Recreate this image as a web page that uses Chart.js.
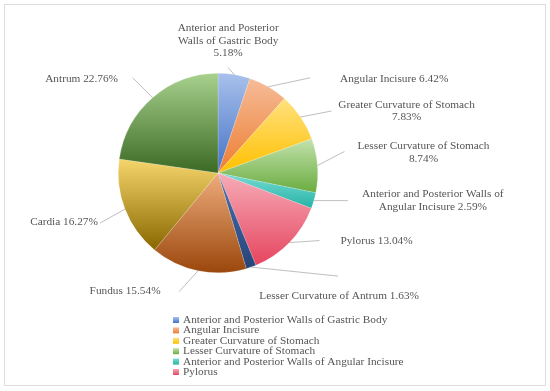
<!DOCTYPE html>
<html>
<head>
<meta charset="utf-8">
<script src="https://cdn.jsdelivr.net/npm/chart.js@4"></script>
<style>
  html, body { margin: 0; padding: 0; background: #fff; }
  canvas { display: block; }
</style>
</head>
<body>
<canvas id="chart" width="550" height="391"></canvas>
<script>
const categories = [
  "Anterior and Posterior Walls of Gastric Body",
  "Angular Incisure",
  "Greater Curvature of Stomach",
  "Lesser Curvature of Stomach",
  "Anterior and Posterior Walls of Angular Incisure",
  "Pylorus",
  "Lesser Curvature of Antrum",
  "Fundus",
  "Cardia",
  "Antrum"
];
const shares = [5.18, 6.42, 7.83, 8.74, 2.59, 13.04, 1.63, 15.54, 16.27, 22.76];
const legendCount = 6; // the legend box in the original only shows the first six

// gradient per slice: light at the top of the slice, base colour at the bottom
const topColors = ["#a9c1ec", "#f6bc98", "#ffe17e", "#c3e2ad", "#78dcd4", "#f6acb8", "#4b6fb0", "#efac7c", "#f6d66c", "#a8d18e"];
const bottomColors = ["#4472c4", "#ed7d31", "#ffc000", "#6aac3f", "#27b3a7", "#e6455e", "#264478", "#9a470c", "#886700", "#3b6a24"];

// where each data label sits, relative to the outer edge of its slice
const labelSpots = [
  { dx: -6, dy: -34, ex: -6, ey: -7, wrap: 110 },
  { dx: 126, dy: -8, ex: 42, ey: -9, wrap: 200 },
  { dx: 106, dy: -6, ex: 31, ey: -6, wrap: 148 },
  { dx: 106, dy: -13, ex: 27, ey: -14, wrap: 148 },
  { dx: 119, dy: 0, ex: 34, ey: 0, wrap: 152 },
  { dx: 87, dy: -2, ex: 30, ey: -2, wrap: 200 },
  { dx: 88, dy: 29, ex: 87, ey: 9, wrap: 200 },
  { dx: -73, dy: 20, ex: -19, ey: 21, wrap: 200 },
  { dx: -61, dy: 13, ex: -25, ey: 14, wrap: 200 },
  { dx: -71, dy: -19, ex: -20, ey: -20, wrap: 200 }
];

const textColor = "#555555";
const textFont = "11.3px 'Liberation Serif'";

function sliceFill(ctx) {
  const chart = ctx.chart;
  const area = chart.chartArea;
  const i = ctx.dataIndex;
  if (!area) return bottomColors[i];
  const cx = (area.left + area.right) / 2;
  const cy = (area.top + area.bottom) / 2;
  const r = Math.min(area.right - area.left, area.bottom - area.top) / 2;
  const total = shares.reduce((a, b) => a + b, 0);
  let before = 0;
  for (let k = 0; k < i; k++) before += shares[k];
  const a0 = -Math.PI / 2 + before / total * 2 * Math.PI;
  const a1 = a0 + shares[i] / total * 2 * Math.PI;
  let yMin = cy, yMax = cy;
  for (let s = 0; s <= 30; s++) {
    const y = cy + r * Math.sin(a0 + (a1 - a0) * s / 30);
    yMin = Math.min(yMin, y);
    yMax = Math.max(yMax, y);
  }
  const g = chart.ctx.createLinearGradient(0, yMin, 0, yMax);
  g.addColorStop(0, topColors[i]);
  g.addColorStop(1, bottomColors[i]);
  return g;
}

function wrapText(ctx, text, maxW) {
  const words = text.split(" ");
  const lines = [];
  let line = "";
  words.forEach(w => {
    const test = line ? line + " " + w : w;
    if (line && ctx.measureText(test).width > maxW) {
      lines.push(line);
      line = w;
    } else {
      line = test;
    }
  });
  if (line) lines.push(line);
  return lines;
}

const framePlugin = {
  id: "frame",
  beforeDraw(chart) {
    const ctx = chart.ctx;
    ctx.save();
    ctx.fillStyle = "#fff";
    ctx.fillRect(0, 0, chart.width, chart.height);
    ctx.strokeStyle = "#dedede";
    ctx.lineWidth = 1;
    ctx.strokeRect(4.5, 4.5, 541, 381);
    ctx.restore();
  }
};

const labelPlugin = {
  id: "sliceLabels",
  afterDatasetsDraw(chart) {
    const ctx = chart.ctx;
    const meta = chart.getDatasetMeta(0);
    ctx.save();
    ctx.font = textFont;
    ctx.fillStyle = textColor;
    ctx.textAlign = "center";
    ctx.textBaseline = "middle";
    meta.data.forEach((arc, i) => {
      const spot = labelSpots[i];
      const mid = (arc.startAngle + arc.endAngle) / 2;
      const ax = arc.x + Math.cos(mid) * arc.outerRadius;
      const ay = arc.y + Math.sin(mid) * arc.outerRadius;

      ctx.strokeStyle = "#bfbfbf";
      ctx.lineWidth = 1;
      ctx.beginPath();
      ctx.moveTo(ax, ay);
      ctx.lineTo(ax + spot.ex, ay + spot.ey);
      ctx.stroke();

      const text = categories[i] + " " + shares[i].toFixed(2) + "%";
      const lines = wrapText(ctx, text, spot.wrap);
      const lh = 12.5;
      const y0 = ay + spot.dy - (lines.length - 1) * lh / 2;
      lines.forEach((ln, k) => ctx.fillText(ln, ax + spot.dx, y0 + k * lh));
    });
    ctx.restore();
  }
};

const legendPlugin = {
  id: "boxLegend",
  afterDraw(chart) {
    const ctx = chart.ctx;
    ctx.save();
    ctx.font = textFont;
    ctx.fillStyle = textColor;
    ctx.textAlign = "left";
    ctx.textBaseline = "middle";
    for (let i = 0; i < legendCount; i++) {
      const y = 320 + i * 10.4;
      const g = ctx.createLinearGradient(0, y - 3, 0, y + 3);
      g.addColorStop(0, topColors[i]);
      g.addColorStop(1, bottomColors[i]);
      ctx.fillStyle = g;
      ctx.fillRect(173, y - 3, 6, 6);
      ctx.fillStyle = textColor;
      ctx.fillText(categories[i], 183, y);
    }
    ctx.restore();
  }
};

new Chart(document.getElementById("chart"), {
  type: "pie",
  data: {
    labels: categories,
    datasets: [{
      data: shares,
      backgroundColor: sliceFill,
      borderColor: "rgba(255,255,255,0.35)",
      borderWidth: 0.5
    }]
  },
  options: {
    responsive: false,
    animation: false,
    layout: { padding: { left: 118, right: 232, top: 73, bottom: 118 } },
    plugins: {
      legend: { display: false },
      tooltip: { enabled: false }
    }
  },
  plugins: [framePlugin, labelPlugin, legendPlugin]
});
</script>
</body>
</html>
